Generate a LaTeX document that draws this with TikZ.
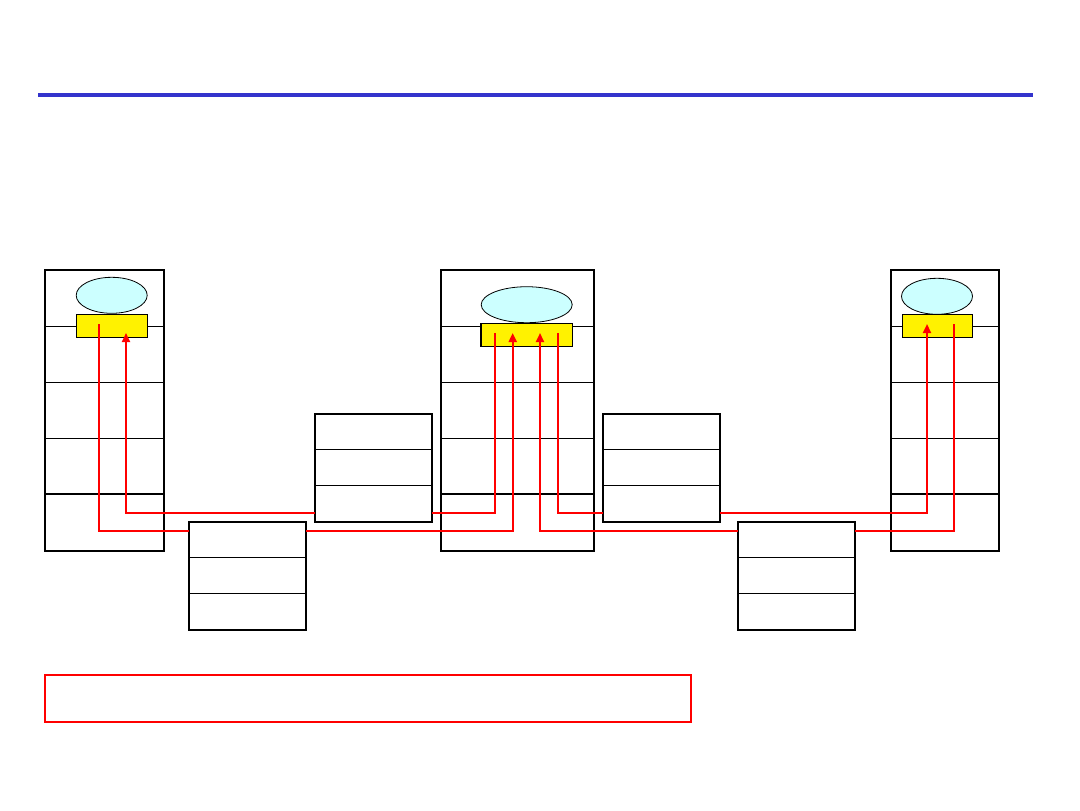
\documentclass[tikz,border=0pt]{standalone}
\usepackage{xcolor}
\usepackage{tikz}
\usetikzlibrary{arrows.meta,calc,shapes.geometric}
\definecolor{rulecolor}{HTML}{3333CC}
\definecolor{appcyan}{HTML}{CCFFFF}
\tikzset{
  hostbox/.style={draw, line width=0.8pt, minimum height=140.5pt, inner sep=0pt, outer sep=0pt},
  routerbox/.style={draw, line width=0.8pt, fill=white, minimum width=58.5pt, minimum height=54pt, inner sep=0pt, outer sep=0pt},
  rowline/.style={line width=0.4pt},
  ifbox/.style={draw, fill=yellow, line width=0.6pt, minimum height=11.5pt, inner sep=0pt, outer sep=0pt},
  appellipse/.style={draw, ellipse, fill=appcyan, line width=0.4pt, minimum height=18pt, inner sep=0pt},
  redlink/.style={draw=red, line width=1pt},
  redarrow/.style={redlink, -{Triangle[length=4.5pt,width=4pt]}},
  titlerule/.style={draw=rulecolor, line width=2pt},
  notebox/.style={draw=red, line width=0.7pt, minimum width=323pt, minimum height=23.5pt, inner sep=0pt}
}

\begin{document}
\begin{tikzpicture}[x=0.5pt, y=-0.5pt]
\useasboundingbox (0,0) rectangle (1080,810);
\draw[titlerule] (38,95) -- (1033,95);
% hosts
\node[hostbox, minimum width=59.5pt] (hostA) at (104.5,410.5) {};
\node[hostbox, minimum width=76.5pt] (hostB) at (517.5,410.5) {};
\node[hostbox, minimum width=54pt] (hostC) at (945,410.5) {};
\foreach \h in {hostA,hostB,hostC} {
  \foreach \k in {1,2,3}
    \draw[rowline] ($(\h.north west)+(0,56*\k)$) -- ($(\h.north east)+(0,56*\k)$);
  \draw[line width=0.8pt] ($(\h.north west)+(0,224)$) -- ($(\h.north east)+(0,224)$);
}
% routers
\node[routerbox] (routerA) at (373.2,467.7) {};
\node[routerbox] (routerB) at (247.5,575.8) {};
\node[routerbox] (routerC) at (661.3,467.7) {};
\node[routerbox] (routerD) at (796.2,575.8) {};
\foreach \r in {routerA,routerB,routerC,routerD} {
  \foreach \k in {1,2}
    \draw[rowline] ($(\r.north west)+(0,36*\k)$) -- ($(\r.north east)+(0,36*\k)$);
}
% applications and interfaces
\node[appellipse, minimum width=35.5pt] (appA) at (111.7,295.3) {};
\node[appellipse, minimum width=45.5pt] (appB) at (526.7,304.7) {};
\node[appellipse, minimum width=35.5pt] (appC) at (937,296.3) {};
\node[ifbox, minimum width=35.5pt] (ifA) at (111.8,325.8) {};
\node[ifbox, minimum width=45.8pt] (ifB) at (526.8,334.8) {};
\node[ifbox, minimum width=35.2pt] (ifC) at (937.5,326.2) {};
% link levels and taps
\coordinate (upper) at (0,513);
\coordinate (lower) at (0,531);
\coordinate (tapA1) at (99,324);
\coordinate (tapA2) at (126,333);
\coordinate (tapB1) at (494.7,333);
\coordinate (tapB2) at (512.7,333);
\coordinate (tapB3) at (540,333);
\coordinate (tapB4) at (557.7,333);
\coordinate (tapC1) at (927,324);
\coordinate (tapC2) at (954,324);
% red paths
\draw[redlink] (tapA1) |- (routerB.west |- lower);
\draw[redarrow] (routerB.east |- lower) -| (tapB2);
\draw[redarrow] (routerA.west |- upper) -| (tapA2);
\draw[redlink] (tapB1) |- (routerA.east |- upper);
\draw[redlink] (tapB4) |- (routerC.west |- upper);
\draw[redarrow] (routerC.east |- upper) -| (tapC1);
\draw[redlink] (tapC2) |- (routerD.east |- lower);
\draw[redarrow] (routerD.west |- lower) -| (tapB3);
\node[notebox] (note) at (368,698.5) {};
\end{tikzpicture}
\end{document}
